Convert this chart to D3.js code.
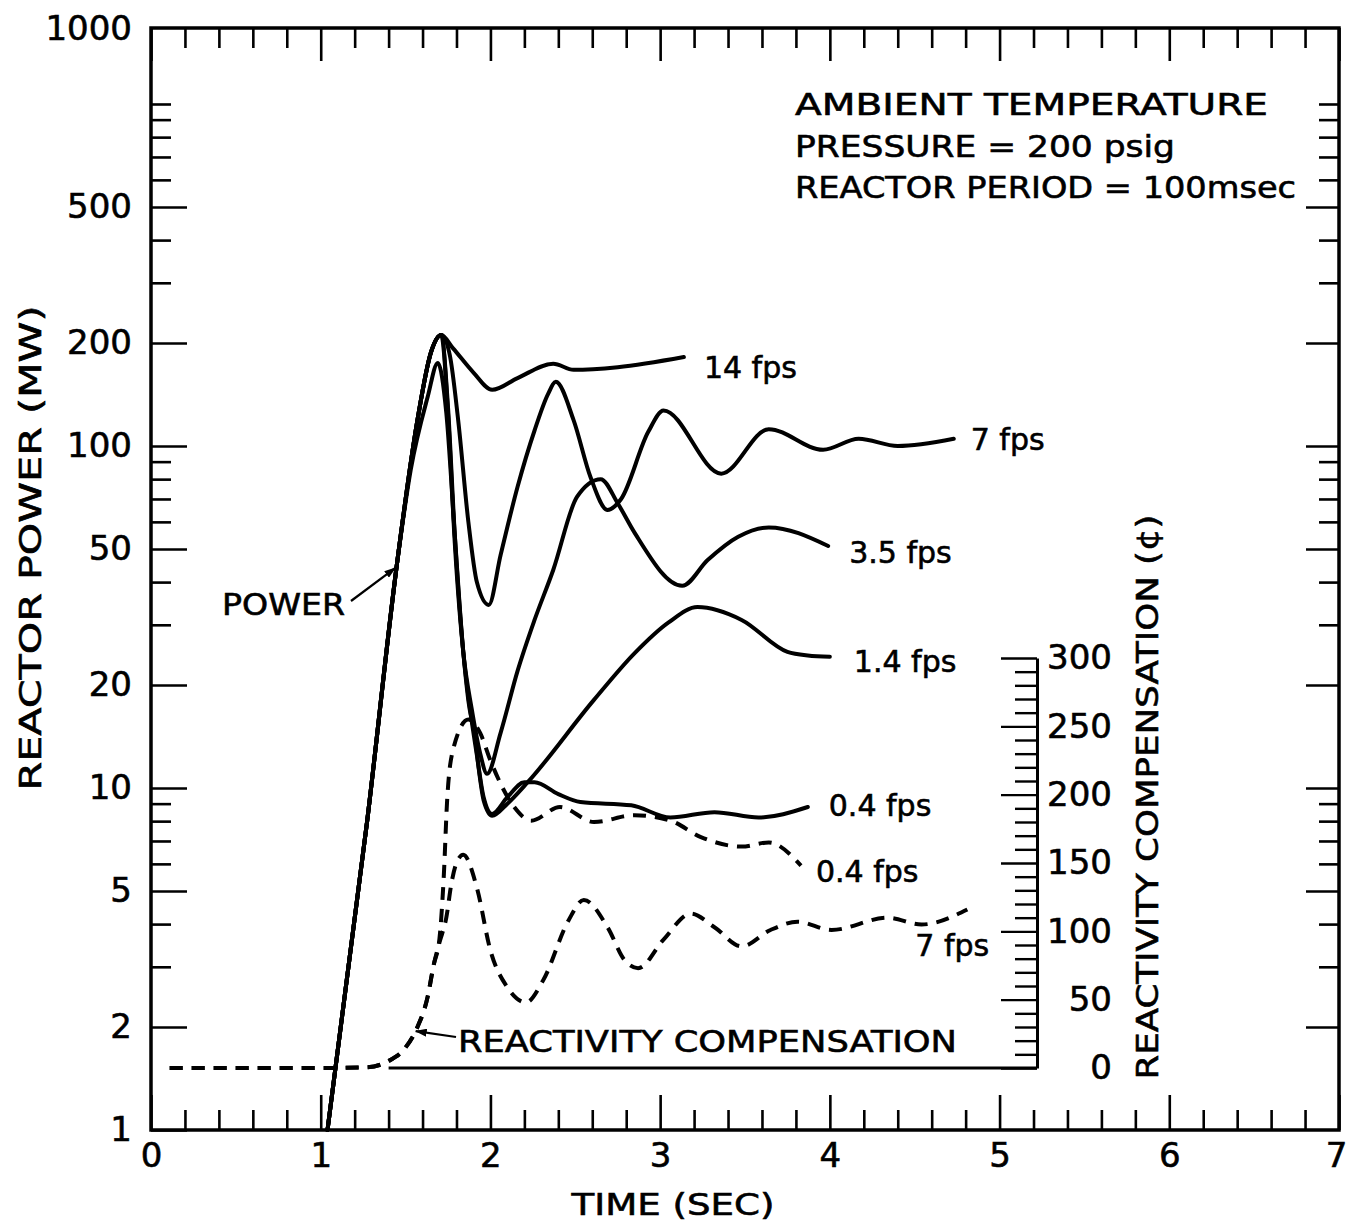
<!DOCTYPE html>
<html>
<head>
<meta charset="utf-8">
<script src="https://cdn.jsdelivr.net/npm/d3@7"></script>
<style>
  html, body { margin: 0; padding: 0; background: #fff; }
  svg { display: block; }
  text { font-family: "DejaVu Sans", sans-serif; fill: #000; stroke: #000; stroke-width: 0.6px; }
</style>
</head>
<body>
<script>
// ---------------- DATA ----------------
// Reactor power (MW) vs time (s) for each flow rate
const power14 = [[1.04,1],[1.275,8.1],[1.45,45.5],[1.57,119],[1.65,188],[1.71,211],[1.78,193],[1.90,164],[2.01,146],[2.16,158],[2.37,174],[2.49,167],[2.75,170],[3.14,182]];
const power7 = [[1.04,1],[1.275,8.1],[1.45,45.5],[1.57,119],[1.65,188],[1.71,211],[1.76,185],[1.81,119],[1.87,60],[1.92,40],[1.99,34.3],[2.06,48],[2.16,76],[2.26,111],[2.34,142],[2.385,154],[2.49,119],[2.59,81],[2.69,65],[2.77,70],[2.93,110],[3.02,127],[3.36,83],[3.64,112],[3.96,97.5],[4.17,105],[4.40,100],[4.73,105]];
const power35 = [[1.04,1],[1.275,8.1],[1.45,45.5],[1.57,119],[1.65,188],[1.71,211],[1.75,125],[1.79,52],[1.84,25],[1.89,17],[1.94,12.6],[1.98,11],[2.06,14.5],[2.16,22],[2.26,31],[2.37,43.4],[2.51,71],[2.65,80],[2.75,68],[2.85,55.7],[3.13,39],[3.28,46.4],[3.46,54.3],[3.64,57.8],[3.99,51]];
const power14b = [[1.04,1],[1.275,8.1],[1.45,45.5],[1.57,119],[1.65,188],[1.71,211],[1.75,130],[1.79,55],[1.84,25],[1.87,18],[1.91,14],[1.93,11.5],[1.96,9.2],[2.01,8.3],[2.1,9.0],[2.22,10.4],[2.61,18.1],[2.85,24.8],[3.05,30.5],[3.22,33.8],[3.48,31],[3.75,25],[3.87,24.4],[4.0,24.2]];
const power04 = [[1.04,1],[1.275,8.1],[1.45,45.5],[1.53,85],[1.63,139],[1.69,175],[1.74,125],[1.79,55],[1.84,25],[1.88,17],[1.92,12.5],[1.96,9.4],[2.01,8.4],[2.1,9.4],[2.2,10.4],[2.26,10.4],[2.4,9.6],[2.53,9.1],[2.83,8.9],[3.06,8.2],[3.32,8.5],[3.58,8.2],[3.87,8.8]];

// Reactivity compensation (cents) vs time (s)
const react04 = [[0.11,0],[1.0,0],[1.27,0.5],[1.39,4.5],[1.5,15],[1.57,30],[1.63,52],[1.665,75],[1.70,95],[1.725,140],[1.745,196],[1.78,233],[1.87,255],[1.94,245],[2.0,225],[2.14,191],[2.24,181],[2.41,191],[2.61,180],[2.85,185],[3.06,181],[3.24,169],[3.48,162],[3.64,165],[3.83,148]];
const react7 = [[0.11,0],[1.0,0],[1.27,0.5],[1.39,4.5],[1.5,15],[1.57,30],[1.63,52],[1.665,75],[1.70,92],[1.74,110],[1.77,135],[1.80,150],[1.84,156],[1.92,132],[2.0,86],[2.1,59],[2.21,48],[2.31,64],[2.46,108],[2.55,123],[2.69,103],[2.79,79],[2.87,73],[3.02,94],[3.18,113],[3.32,103],[3.48,89],[3.65,101],[3.81,107],[4.01,101],[4.34,110],[4.54,105],[4.81,116]];

// Tick values
const xMajorTicks = [0,1,2,3,4,5,6,7];
const xMinorTicks = d3.range(0, 7.0001, 0.2).map(v => +v.toFixed(1)).filter(v => Math.abs(v - Math.round(v)) > 1e-6);
const yLabelTicks = [1,2,5,10,20,50,100,200,500];
const yMinorTicks = [3,4,6,7,8,9,30,40,60,70,80,90,300,400,600,700,800,900,1000];
const yTopLabel = "1000";
const rMajorTicks = [0,50,100,150,200,250,300];
const rMinorTicks = d3.range(0, 301, 10).filter(v => v % 50 !== 0);

const noteLines = ["AMBIENT  TEMPERATURE", "PRESSURE = 200 psig", "REACTOR  PERIOD = 100msec"];

// ---------------- LAYOUT ----------------
const W = 1348, H = 1222;
const svg = d3.select("body").append("svg").attr("width", W).attr("height", H);

const x = d3.scaleLinear().domain([0, 7]).range([151, 1339]);
const y = d3.scaleLog().domain([1, 1668]).range([1130, 28]);
const r = d3.scaleLinear().domain([0, 300]).range([1068, 658]);
const innerAxisStartT = 1.4;   // where the reactivity base line begins (seconds)

const FS = 30;     // annotation font size
const TFS = 34;    // tick label font size

// defs: arrowheads
const defs = svg.append("defs");
defs.append("marker").attr("id", "arrow")
  .attr("viewBox", "0 0 12 8").attr("refX", 11).attr("refY", 4)
  .attr("markerWidth", 12).attr("markerHeight", 8).attr("markerUnits", "userSpaceOnUse")
  .attr("orient", "auto")
  .append("path").attr("d", "M0,0 L12,4 L0,8 Z").attr("fill", "#000");

// frame
svg.append("rect")
  .attr("x", x(0)).attr("y", y.range()[1])
  .attr("width", x(7) - x(0)).attr("height", y.range()[0] - y.range()[1])
  .attr("fill", "none").attr("stroke", "#000").attr("stroke-width", 3.5);

function styleAxis(g) {
  g.select(".domain").remove();
  g.selectAll(".tick line").attr("stroke", "#000").attr("stroke-width", 2.6);
  g.selectAll(".tick text").attr("font-size", TFS).attr("fill", "#000")
    .attr("font-family", "DejaVu Sans, sans-serif");
}

// bottom axis
svg.append("g").attr("transform", `translate(0,${y.range()[0]})`)
  .call(d3.axisBottom(x).tickValues(xMinorTicks).tickSize(-20).tickFormat(""))
  .call(styleAxis);
const xMajorG = svg.append("g").attr("transform", `translate(0,${y.range()[0]})`)
  .call(d3.axisBottom(x).tickValues(xMajorTicks).tickSize(-35).tickPadding(13).tickFormat(d3.format("d")))
  .call(styleAxis);
// keep the last label inside the page
xMajorG.selectAll(".tick text").filter(d => d === 7).attr("x", -3);
// top axis
svg.append("g").attr("transform", `translate(0,${y.range()[1]})`)
  .call(d3.axisTop(x).tickValues(xMinorTicks).tickSize(-20).tickFormat(""))
  .call(styleAxis);
svg.append("g").attr("transform", `translate(0,${y.range()[1]})`)
  .call(d3.axisTop(x).tickValues(xMajorTicks).tickSize(-33).tickFormat(""))
  .call(styleAxis);
// left axis
svg.append("g").attr("transform", `translate(${x(0)},0)`)
  .call(d3.axisLeft(y).tickValues(yMinorTicks).tickSize(-20).tickFormat(""))
  .call(styleAxis);
svg.append("g").attr("transform", `translate(${x(0)},0)`)
  .call(d3.axisLeft(y).tickValues(yLabelTicks).tickSize(-36).tickPadding(19).tickFormat(d3.format("d")))
  .call(styleAxis);
svg.append("text").attr("x", x(0) - 19).attr("y", y.range()[1]).attr("dy", "0.36em")
  .attr("text-anchor", "end").attr("font-size", TFS).text(yTopLabel);
// right axis
svg.append("g").attr("transform", `translate(${x(7)},0)`)
  .call(d3.axisRight(y).tickValues(yMinorTicks).tickSize(-20).tickFormat(""))
  .call(styleAxis);
svg.append("g").attr("transform", `translate(${x(7)},0)`)
  .call(d3.axisRight(y).tickValues(yLabelTicks.filter(v => v > 1)).tickSize(-33).tickFormat(""))
  .call(styleAxis);

// inner reactivity axis
const rx = 1037;
const rAxisG = svg.append("g").attr("transform", `translate(${rx},0)`);
rAxisG.call(d3.axisRight(r).tickValues(rMinorTicks).tickSize(-22).tickSizeOuter(0).tickFormat(""));
rAxisG.select(".domain").attr("stroke", "#000").attr("stroke-width", 3);
rAxisG.selectAll(".tick line").attr("stroke", "#000").attr("stroke-width", 2.4);
const rAxisMajor = svg.append("g").attr("transform", `translate(${rx},0)`)
  .call(d3.axisRight(r).tickValues(rMajorTicks).tickSize(-36).tickPadding(75).tickFormat(d3.format("d")));
rAxisMajor.select(".domain").remove();
rAxisMajor.selectAll(".tick line").attr("stroke", "#000").attr("stroke-width", 2.4);
rAxisMajor.selectAll(".tick text").attr("font-size", TFS).attr("text-anchor", "end")
  .attr("font-family", "DejaVu Sans, sans-serif").attr("fill", "#000");
svg.append("line")
  .attr("x1", x(innerAxisStartT)).attr("x2", rx)
  .attr("y1", r(0)).attr("y2", r(0))
  .attr("stroke", "#000").attr("stroke-width", 3);

// ---------------- CURVES ----------------
const powerLine = d3.line().x(d => x(d[0])).y(d => y(d[1])).curve(d3.curveMonotoneX);
const reactLine = d3.line().x(d => x(d[0])).y(d => r(d[1])).curve(d3.curveMonotoneX);

const powerSeries = [
  {data: power14, label: "14 fps", dx: 20, dy: 10},
  {data: power7, label: "7 fps", dx: 17, dy: 0},
  {data: power35, label: "3.5 fps", dx: 21, dy: 6},
  {data: power14b, label: "1.4 fps", dx: 24, dy: 4},
  {data: power04, label: "0.4 fps", dx: 21, dy: -2},
];
const reactSeries = [
  {data: react04, label: "0.4 fps", dx: 15, dy: 5},
  {data: react7, label: "7 fps", dx: -52, dy: 36},
];

powerSeries.forEach(s => {
  svg.append("path").attr("d", powerLine(s.data))
    .attr("fill", "none").attr("stroke", "#000").attr("stroke-width", 4)
    .attr("stroke-linejoin", "round").attr("stroke-linecap", "round");
  const last = s.data[s.data.length - 1];
  svg.append("text").attr("x", x(last[0]) + s.dx).attr("y", y(last[1]) + s.dy)
    .attr("dy", "0.36em").attr("font-size", FS).text(s.label);
});
reactSeries.forEach(s => {
  svg.append("path").attr("d", reactLine(s.data))
    .attr("fill", "none").attr("stroke", "#000").attr("stroke-width", 4)
    .attr("stroke-dasharray", "13,9");
  const last = s.data[s.data.length - 1];
  svg.append("text").attr("x", x(last[0]) + s.dx).attr("y", r(last[1]) + s.dy)
    .attr("dy", "0.36em").attr("font-size", FS).text(s.label);
});

// ---------------- ANNOTATIONS ----------------
// POWER label + arrow
svg.append("text").attr("x", 222).attr("y", 615).attr("font-size", FS)
  .attr("textLength", 123).attr("lengthAdjust", "spacingAndGlyphs").text("POWER");
svg.append("line").attr("x1", 351).attr("y1", 601).attr("x2", x(1.44)).attr("y2", y(44))
  .attr("stroke", "#000").attr("stroke-width", 2.2).attr("marker-end", "url(#arrow)");

// REACTIVITY COMPENSATION label + arrow
svg.append("text").attr("x", 458).attr("y", 1052).attr("font-size", FS)
  .attr("textLength", 499).attr("lengthAdjust", "spacingAndGlyphs").text("REACTIVITY  COMPENSATION");
svg.append("line").attr("x1", 456).attr("y1", 1037).attr("x2", x(1.56)).attr("y2", r(27))
  .attr("stroke", "#000").attr("stroke-width", 2.2).attr("marker-end", "url(#arrow)");

// note block
const noteLengths = [473, 380, 501];
const noteBaselines = [115, 157, 198];
noteLines.forEach((t, i) => {
  svg.append("text").attr("x", 795).attr("y", noteBaselines[i]).attr("font-size", FS)
    .attr("textLength", noteLengths[i]).attr("lengthAdjust", "spacingAndGlyphs").text(t);
});

// axis titles
svg.append("text").attr("x", 673).attr("y", 1215)
  .attr("text-anchor", "middle").attr("font-size", FS)
  .attr("textLength", 203).attr("lengthAdjust", "spacingAndGlyphs").text("TIME (SEC)");
svg.append("text").attr("transform", "translate(41,548) rotate(-90)")
  .attr("text-anchor", "middle").attr("font-size", FS)
  .attr("textLength", 485).attr("lengthAdjust", "spacingAndGlyphs").text("REACTOR  POWER  (MW)");
svg.append("text").attr("transform", "translate(1158,797) rotate(-90)")
  .attr("text-anchor", "middle").attr("font-size", FS)
  .attr("textLength", 565).attr("lengthAdjust", "spacingAndGlyphs").text("REACTIVITY  COMPENSATION  (¢)");
</script>
</body>
</html>
